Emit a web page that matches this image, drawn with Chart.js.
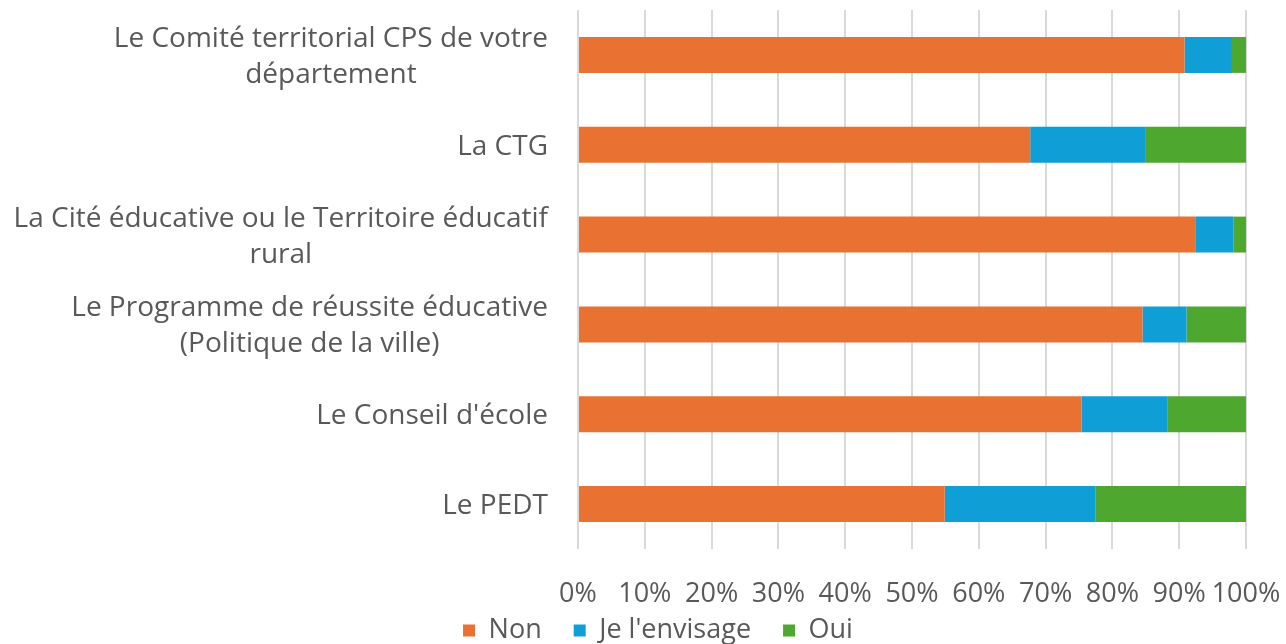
<!DOCTYPE html>
<html>
<head>
<meta charset="utf-8">
<script src="https://cdn.jsdelivr.net/npm/chart.js@4"></script>
<style>
  html, body { margin: 0; padding: 0; background: #fff; }
  #wrap { width: 1286px; height: 644px; }
</style>
</head>
<body>
<div id="wrap"><canvas id="myChart" width="1286" height="644"></canvas></div>
<script>
var categories = [
    ['Le Comité territorial CPS de votre', 'département'],
    ['La CTG'],
    ['La Cité éducative ou le Territoire éducatif', 'rural'],
    ['Le Programme de réussite éducative', '(Politique de la ville)'],
    ["Le Conseil d'école"],
    ['Le PEDT']
];
var non = [90.8, 67.7, 92.4, 84.5, 75.4, 54.9];
var envisage = [7.1, 17.2, 5.7, 6.6, 12.8, 22.6];
var oui = [2.1, 15.1, 1.9, 8.9, 11.8, 22.5];

var textColor = '#595959';
var fontFamily = '"Open Sans", "Liberation Sans", sans-serif';

// draws the category labels: block right-aligned, lines centered inside it
var catLabels = {
    id: 'catLabels',
    afterLayout: function(chart) {
        // let the % labels run below the squeezed x axis box without clipping
        chart.scales.x.bottom = chart.height;
    },
    afterDraw: function(chart) {
        var ctx = chart.ctx;
        var y = chart.scales.y;
        var right = chart.chartArea.left - 30;
        var lh = 36;
        ctx.save();
        ctx.font = '28px ' + fontFamily;
        ctx.fillStyle = textColor;
        ctx.textAlign = 'center';
        ctx.textBaseline = 'middle';
        categories.forEach(function(lines, i) {
            var w = 0;
            lines.forEach(function(t) { w = Math.max(w, ctx.measureText(t).width); });
            var cx = right - w / 2;
            var cy = y.getPixelForValue(i) + 2 - (lines.length - 1) * lh / 2;
            lines.forEach(function(t, k) { ctx.fillText(t, cx, cy + k * lh); });
        });
        ctx.restore();
    }
};

var ctx = document.getElementById('myChart').getContext('2d');
var myChart = new Chart(ctx, {
    type: 'bar',
    data: {
        labels: categories,
        datasets: [{
            label: 'Non',
            data: non,
            backgroundColor: '#E97132'
        },
        {
            label: "Je l'envisage",
            data: envisage,
            backgroundColor: '#0F9ED5'
        },
        {
            label: 'Oui',
            data: oui,
            backgroundColor: '#4EA72E'
        }]
    },
    options: {
        indexAxis: 'y',
        responsive: false,
        animation: false,
        layout: { padding: { top: 10, right: 0, bottom: -10, left: 30 } },
        datasets: {
            bar: { barPercentage: 0.4, categoryPercentage: 1 }
        },
        plugins: {
            legend: {
                position: 'bottom',
                labels: {
                    color: textColor,
                    font: { family: fontFamily, size: 27 },
                    boxWidth: 12,
                    boxHeight: 12,
                    padding: 32
                }
            },
            tooltip: { enabled: false }
        },
        scales: {
            x: {
                stacked: true,
                min: 0,
                max: 100,
                ticks: {
                    stepSize: 10,
                    autoSkip: false,
                    color: textColor,
                    font: { family: fontFamily, size: 27 },
                    padding: 29,
                    maxRotation: 0,
                    callback: function(v) { return v + '%'; }
                },
                grid: { color: '#d9d9d9', lineWidth: 2, drawTicks: false },
                border: { display: false },
                afterFit: function(s) { s.height = 36; s.paddingRight = 40; }
            },
            y: {
                stacked: true,
                ticks: { display: false },
                grid: { display: false },
                border: { display: false },
                afterFit: function(s) { s.width = 548; }
            }
        }
    },
    plugins: [catLabels]
});
</script>
</body>
</html>
